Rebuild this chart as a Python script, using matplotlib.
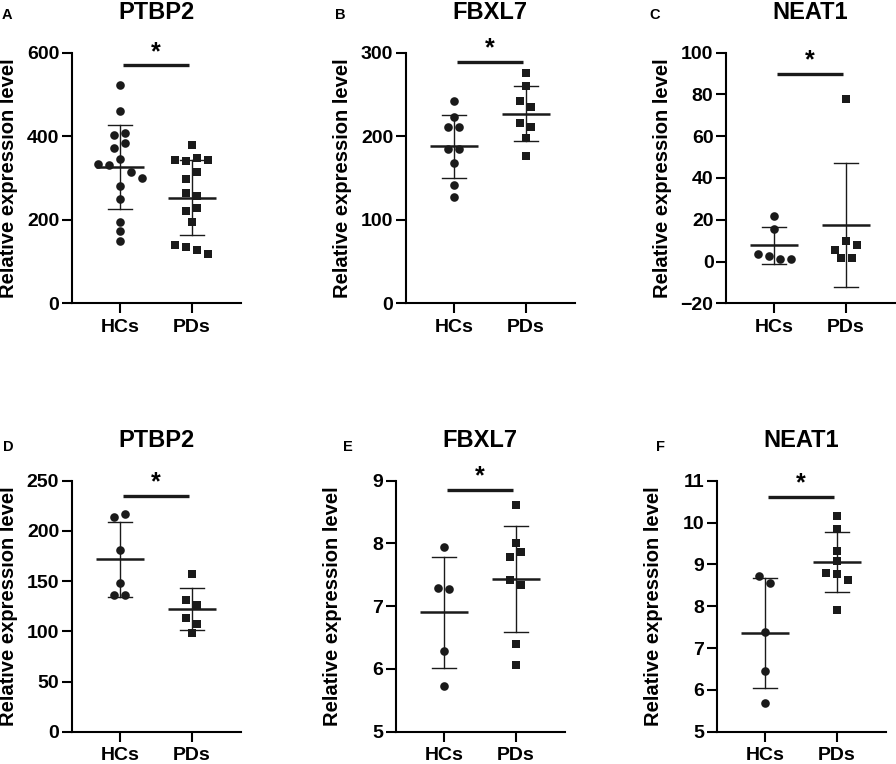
import numpy as np
import matplotlib
matplotlib.use("Agg")
from matplotlib import pyplot as plt

plt.rcParams["font.family"] = ["Liberation Sans", "DejaVu Sans"]
plt.rcParams["font.weight"] = "bold"

# ---- data ----
groups = ["HCs", "PDs"]
genes = ["PTBP2", "FBXL7", "NEAT1", "PTBP2", "FBXL7", "NEAT1"]
letters = ["A", "B", "C", "D", "E", "F"]

a_hc = [522, 460, 403, 408, 371, 383, 333, 330, 345, 314, 301, 282, 250, 195, 174, 150]
a_pd = [380, 343, 340, 347, 342, 297, 314, 265, 257, 222, 227, 195, 140, 134, 128, 117]
b_hc = [242, 210.6, 222.6, 210.6, 184.7, 184.7, 168.3, 141.6, 127.6]
b_pd = [276, 260.5, 242.5, 234.5, 215.4, 210.6, 198.2, 176.3]
c_hc = [22.0, 15.8, 3.5, 2.7, 1.4, 1.1]
c_pd = [77.8, 5.5, 9.8, 7.8, 1.9, 1.9]
d_hc = [213.5, 216.8, 181.3, 147.7, 136.1, 136.1]
d_pd = [157, 130.8, 125.8, 113.2, 106.9, 98.6]
e_hc = [7.94, 7.29, 7.28, 6.29, 5.73]
e_pd = [8.61, 8.00, 7.79, 7.86, 7.41, 7.34, 6.39, 6.07]
f_hc = [8.72, 8.56, 7.38, 6.46, 5.69]
f_pd = [10.16, 9.84, 9.32, 9.08, 8.80, 8.77, 8.62, 7.90]

hc_sets = [a_hc, b_hc, c_hc, d_hc, e_hc, f_hc]
pd_sets = [a_pd, b_pd, c_pd, d_pd, e_pd, f_pd]

y_limits = [(0, 600), (0, 300), (-20, 100), (0, 250), (5, 9), (5, 11)]
y_steps = [200, 100, 20, 50, 1, 1]
sig_levels = [570, 289, 90, 235, 8.85, 10.62]

# ---- layout (pixels in an 896x764 figure) ----
W, H = 896, 764
ax_w = 169
boxes = [(71.7, 52.7, 250.6), (405.7, 52.7, 250.6), (726, 52.7, 250.6),
         (71.7, 480.7, 251), (395.7, 480.7, 251), (716.7, 480.7, 251)]
letter_pos = [(2, 15), (335, 15), (649, 15), (3, 447), (343, 447), (656, 447)]

ink = "#1a1a1a"


def swarm_x(ax, center, vals, diam_px=7.5, step_px=11.0):
    # rows of overlapping points spread sideways, GraphPad-style
    vals = np.asarray(vals, dtype=float)
    ypx = ax.transData.transform(np.column_stack([np.zeros_like(vals), vals]))[:, 1]
    x0 = ax.transData.transform([[0, 0], [1, 0]])[:, 0]
    px_per_unit = x0[1] - x0[0]
    order = np.argsort(ypx)
    clusters = [[order[0]]]
    for i in order[1:]:
        if ypx[i] - ypx[clusters[-1][-1]] < diam_px:
            clusters[-1].append(i)
        else:
            clusters.append([i])
    xs = np.full(len(vals), float(center))
    for cl in clusters:
        cl = sorted(cl)
        n = len(cl)
        for k, idx in enumerate(cl):
            xs[idx] = center + (k - (n - 1) / 2) * step_px / px_per_unit
    return xs


fig = plt.figure(figsize=(W / 100, H / 100), dpi=100)

for i in range(6):
    left, top, h = boxes[i]
    ax = fig.add_axes([left / W, 1 - (top + h) / H, ax_w / W, h / H])
    lo, hi = y_limits[i]
    ax.set_xlim(-0.67, 1.68)
    ax.set_ylim(lo, hi)
    ax.set_yticks(np.arange(lo, hi + y_steps[i] / 2, y_steps[i]))
    ax.set_xticks([0, 1])
    ax.set_xticklabels(groups)
    for s in ["top", "right"]:
        ax.spines[s].set_visible(False)
    for s in ["left", "bottom"]:
        ax.spines[s].set_linewidth(1.5)
    ax.tick_params(length=7, width=1.5, labelsize=14, pad=2, colors="black")
    ax.tick_params(axis="x", pad=4)
    for lab in ax.get_xticklabels() + ax.get_yticklabels():
        lab.set_fontweight("bold")
    ax.set_ylabel("Relative expression level", fontsize=14.5, fontweight="bold")
    ax.yaxis.set_label_coords(-0.32, 0.5)

    for g, (vals, mk, ms) in enumerate([(hc_sets[i], "o", 6.2), (pd_sets[i], "s", 5.4)]):
        xs = swarm_x(ax, g, vals)
        ax.plot(xs, vals, linestyle="none", marker=mk, markersize=ms,
                color=ink, markeredgewidth=0, zorder=3)
        m = np.mean(vals)
        sd = np.std(vals, ddof=1)
        ax.plot([g - 0.33, g + 0.33], [m, m], color=ink, lw=1.8, zorder=4,
                solid_capstyle="butt")
        ax.plot([g, g], [m - sd, m + sd], color=ink, lw=1.0, zorder=2)
        for yy in (m - sd, m + sd):
            ax.plot([g - 0.17, g + 0.17], [yy, yy], color=ink, lw=1.0, zorder=2)

    y_sig = sig_levels[i]
    ax.plot([0.04, 0.96], [y_sig, y_sig], color=ink, lw=2.4,
            solid_capstyle="butt", clip_on=False)
    ax.annotate("*", xy=(0.5, y_sig), xytext=(0, 1), textcoords="offset points",
                ha="center", va="bottom", fontsize=18, fontweight="bold")

    ax.text(0.5, 1 + 40.5 / h, genes[i], transform=ax.transAxes,
            ha="center", va="center", fontsize=17, fontweight="bold")
    lx, ly = letter_pos[i]
    fig.text(lx / W, 1 - ly / H, letters[i], ha="left", va="center",
             fontsize=10.5, fontweight="bold")

fig.savefig("out.png", dpi=100)
